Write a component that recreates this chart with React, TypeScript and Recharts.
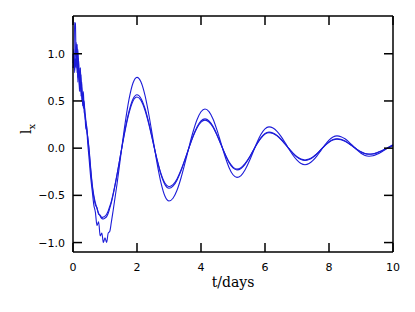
import { LineChart, Line, XAxis, YAxis } from "recharts";

// time samples (days): fine at the noisy start, coarser afterwards
const T = [
  0, 0.025, 0.05, 0.075, 0.1, 0.125, 0.15, 0.175, 0.2, 0.225, 0.25, 0.275, 0.3, 0.325, 0.35, 0.375, 0.4, 0.425, 0.45,
  0.5, 0.55, 0.6, 0.65, 0.7, 0.75, 0.8, 0.85, 0.9, 0.95, 1, 1.05, 1.1, 1.15, 1.2,
  1.25, 1.375, 1.5, 1.625, 1.75, 1.875, 2, 2.125, 2.25, 2.375, 2.5, 2.625, 2.75, 2.875, 3,
  3.125, 3.25, 3.375, 3.5, 3.625, 3.75, 3.875, 4, 4.125, 4.25, 4.375, 4.5, 4.625, 4.75, 4.875, 5,
  5.125, 5.25, 5.375, 5.5, 5.625, 5.75, 5.875, 6, 6.125, 6.25, 6.375, 6.5, 6.625, 6.75, 6.875, 7,
  7.125, 7.25, 7.375, 7.5, 7.625, 7.75, 7.875, 8, 8.125, 8.25, 8.375, 8.5, 8.625, 8.75, 8.875, 9,
  9.125, 9.25, 9.375, 9.5, 9.625, 9.75, 9.875, 10,
];

// the wide-swing run
const LX_A = [
  1.0, 0.85, 1.33, 1.32, 0.9, 1.1, 0.75, 0.95, 0.6, 0.85, 0.55, 0.7, 0.45, 0.6, 0.38, 0.35, 0.2, 0.25, 0.1,
  -0.1, -0.3, -0.45, -0.6, -0.68, -0.82, -0.78, -0.93, -0.9, -1.0, -0.95, -1.0, -0.9, -0.88, -0.78,
  -0.671, -0.382, -0.059, 0.255, 0.516, 0.69, 0.75, 0.7, 0.558, 0.346, 0.095, -0.156, -0.368, -0.51, -0.56,
  -0.531, -0.446, -0.316, -0.157, 0.012, 0.171, 0.301, 0.386, 0.415, 0.387, 0.309, 0.191, 0.053, -0.086, -0.204, -0.282,
  -0.31, -0.29, -0.232, -0.145, -0.043, 0.06, 0.147, 0.205, 0.225, 0.213, 0.178, 0.125, 0.06, -0.01, -0.075, -0.128,
  -0.163, -0.175, -0.163, -0.13, -0.081, -0.023, 0.036, 0.085, 0.118, 0.13, 0.122, 0.099, 0.064, 0.023, -0.019, -0.054,
  -0.077, -0.085, -0.08, -0.065, -0.043, -0.016, 0.012, 0.037,
];

// the two close runs
const LX_B = [
  0.85, 0.95, 0.9, 1.0, 1.12, 0.8, 1.05, 0.9, 0.65, 0.85, 0.7, 0.62, 0.55, 0.48, 0.45, 0.38, 0.3, 0.22, 0.15,
  0.0, -0.2, -0.38, -0.5, -0.58, -0.64, -0.69, -0.72, -0.745, -0.75, -0.74, -0.725, -0.69, -0.635, -0.575,
  -0.5, -0.286, -0.043, 0.193, 0.389, 0.52, 0.565, 0.527, 0.42, 0.26, 0.07, -0.12, -0.28, -0.387, -0.425,
  -0.403, -0.339, -0.241, -0.121, 0.006, 0.126, 0.224, 0.288, 0.31, 0.289, 0.231, 0.143, 0.04, -0.063, -0.151, -0.209,
  -0.23, -0.215, -0.171, -0.107, -0.03, 0.047, 0.111, 0.155, 0.17, 0.161, 0.135, 0.095, 0.046, -0.006, -0.055, -0.095,
  -0.121, -0.13, -0.121, -0.096, -0.059, -0.015, 0.029, 0.066, 0.091, 0.1, 0.094, 0.076, 0.049, 0.018, -0.014, -0.041,
  -0.059, -0.065, -0.061, -0.05, -0.032, -0.012, 0.009, 0.028,
];

const LX_C = [
  0.9, 1.05, 0.8, 0.95, 0.85, 1.1, 0.7, 0.82, 0.75, 0.6, 0.78, 0.5, 0.58, 0.42, 0.5, 0.33, 0.28, 0.2, 0.14,
  -0.02, -0.22, -0.4, -0.52, -0.6, -0.63, -0.7, -0.71, -0.735, -0.73, -0.72, -0.7, -0.665, -0.615, -0.56,
  -0.49, -0.28, -0.045, 0.18, 0.37, 0.5, 0.542, 0.506, 0.402, 0.248, 0.064, -0.118, -0.27, -0.372, -0.408,
  -0.387, -0.326, -0.232, -0.117, 0.004, 0.12, 0.214, 0.276, 0.297, 0.277, 0.222, 0.137, 0.038, -0.06, -0.145, -0.2,
  -0.221, -0.206, -0.164, -0.103, -0.029, 0.045, 0.106, 0.149, 0.163, 0.155, 0.13, 0.091, 0.044, -0.006, -0.053, -0.091,
  -0.116, -0.125, -0.116, -0.092, -0.057, -0.014, 0.028, 0.063, 0.087, 0.096, 0.09, 0.073, 0.047, 0.017, -0.013, -0.039,
  -0.057, -0.062, -0.059, -0.048, -0.031, -0.012, 0.009, 0.027,
];

const X_TICKS = [0, 2, 4, 6, 8, 10];
const Y_TICKS = [-1, -0.5, 0, 0.5, 1];

const rows = T.map((t, i) => ({ t, a: LX_A[i], b: LX_B[i], c: LX_C[i] }));

const BLUE = "#1c1cd8";
const TICK_LEN = 9;
const fmtY = (v: number) => (v < 0 ? "\u2212" : "") + Math.abs(v).toFixed(1);

function BottomTick({ x, y, payload }: any) {
  return (
    <g>
      <path d={`M${x},${y}V${y - TICK_LEN}`} stroke="#000" strokeWidth={1.5} fill="none" />
      <text x={x} y={y + 19} textAnchor="middle" fontSize={11} fontFamily="DejaVu Sans" fill="#000">
        {payload.value}
      </text>
    </g>
  );
}

function TopTick({ x, y }: any) {
  return <path d={`M${x},${y}V${y + TICK_LEN}`} stroke="#000" strokeWidth={1.5} fill="none" />;
}

function LeftTick({ x, y, payload }: any) {
  return (
    <g>
      <path d={`M${x},${y}H${x + TICK_LEN}`} stroke="#000" strokeWidth={1.5} fill="none" />
      <text x={x - 8} y={y + 4} textAnchor="end" fontSize={11} fontFamily="DejaVu Sans" fill="#000">
        {fmtY(payload.value)}
      </text>
    </g>
  );
}

function RightTick({ x, y }: any) {
  return <path d={`M${x},${y}H${x - TICK_LEN}`} stroke="#000" strokeWidth={1.5} fill="none" />;
}

function XTitle() {
  return (
    <text x={233} y={287} textAnchor="middle" fontSize={14} fontFamily="DejaVu Serif" fill="#000">
      t/days
    </text>
  );
}

function YTitle() {
  return (
    <g transform="translate(31 129) rotate(-90)">
      <text x={0} y={0} textAnchor="middle" fontSize={14} fontFamily="DejaVu Serif" fill="#000">
        l
        <tspan fontSize={10} dy={4}>
          x
        </tspan>
      </text>
    </g>
  );
}

export default function App() {
  const axisLine = { stroke: "#000", strokeWidth: 1.5 };
  return (
    <div style={{ position: "absolute", left: 0, top: 0, background: "#fff" }}>
      <LineChart width={415} height={312} data={rows} margin={{ top: 15, right: 21, bottom: 0, left: 0 }}>
        <XAxis
          dataKey="t"
          type="number"
          domain={[0, 10]}
          ticks={X_TICKS}
          interval={0}
          height={60}
          tickSize={0}
          tickMargin={0}
          tickLine={false}
          axisLine={axisLine}
          tick={<BottomTick />}
          label={<XTitle />}
        />
        <XAxis
          xAxisId="top"
          orientation="top"
          dataKey="t"
          type="number"
          domain={[0, 10]}
          ticks={X_TICKS}
          interval={0}
          height={1}
          tickSize={0}
          tickMargin={0}
          tickLine={false}
          axisLine={axisLine}
          tick={<TopTick />}
        />
        <YAxis
          type="number"
          domain={[-1.1, 1.4]}
          ticks={Y_TICKS}
          interval={0}
          allowDataOverflow
          width={73}
          tickSize={0}
          tickMargin={0}
          tickLine={false}
          axisLine={axisLine}
          tick={<LeftTick />}
          label={<YTitle />}
        />
        <YAxis
          yAxisId="right"
          orientation="right"
          type="number"
          domain={[-1.1, 1.4]}
          ticks={Y_TICKS}
          interval={0}
          allowDataOverflow
          width={1}
          tickSize={0}
          tickMargin={0}
          tickLine={false}
          axisLine={axisLine}
          tick={<RightTick />}
        />
        <Line dataKey="a" type="monotone" stroke={BLUE} strokeWidth={1.1} dot={false} isAnimationActive={false} />
        <Line dataKey="b" type="monotone" stroke={BLUE} strokeWidth={1.1} dot={false} isAnimationActive={false} />
        <Line dataKey="c" type="monotone" stroke={BLUE} strokeWidth={1.1} dot={false} isAnimationActive={false} />
      </LineChart>
    </div>
  );
}
